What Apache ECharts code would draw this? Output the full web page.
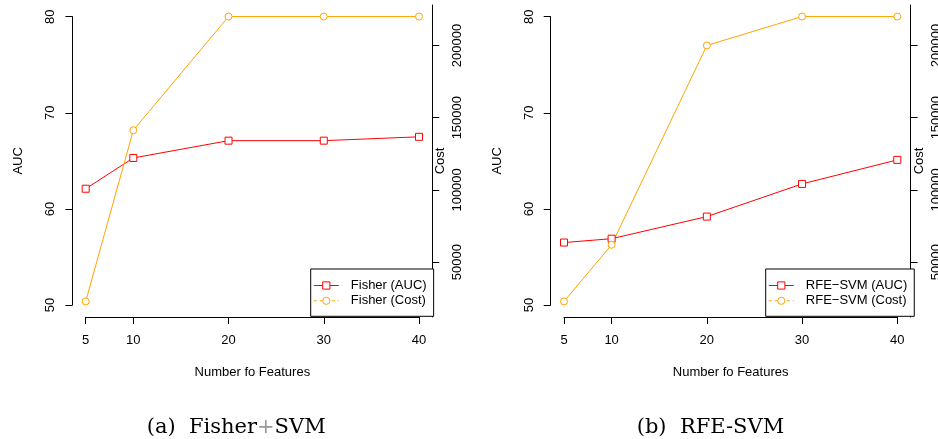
<!DOCTYPE html>
<html><head><meta charset="utf-8">
<script src="https://cdn.jsdelivr.net/npm/echarts@6/dist/echarts.min.js"></script>
<style>html,body{margin:0;padding:0;background:#fff}#c{width:938px;height:439px}</style>
</head><body><div id="c"></div>
<script>
// ---- data ----
const features = [5, 10, 20, 30, 40];
const fisherAUC = [62.1, 65.3, 67.1, 67.1, 67.5];
const fisherCost = [22800, 141300, 220000, 220000, 220000];
const rfeAUC = [56.5, 56.9, 59.2, 62.6, 65.1];
const rfeCost = [22800, 62000, 200000, 220000, 220000];
const xTicks = [5, 10, 20, 30, 40];
const aucTicks = [50, 60, 70, 80];
const costTicks = [50000, 100000, 150000, 200000];
const methodNames = ['Fisher', 'RFE\u2212SVM'];
const captions = ['(a)  Fisher{p|+}SVM', '(b)  RFE-SVM'];
const xTitle = 'Number fo Features';

const aucSeries = [fisherAUC, rfeAUC];
const costSeries = [fisherCost, rfeCost];

const SANS = 'Liberation Sans, Arial, Helvetica, sans-serif';
const FS = 13;
const BLACK = '#000';
const RED = '#FF0000';
const ORANGE = '#FFA500';

const dxs = [0, 478.3];
const legendLeft = [310.7, 765.7];
const captionLeft = [146.7, 636.7];

const grid = [], xAxis = [], yAxis = [], series = [], legend = [], title = [];
const txt = {color: BLACK, fontSize: FS, fontFamily: SANS};

for (let p = 0; p < 2; p++) {
  const dx = dxs[p];
  grid.push({left: 85.7 + dx, top: 16.7, width: 333.3, height: 288.3, containLabel: false, outerBoundsMode: 'none'});
  grid.push({left: 72.4 + dx, top: 5, width: 359.9, height: 312, containLabel: false, outerBoundsMode: 'none'});

  xAxis.push({
    gridIndex: 2 * p, type: 'value', min: 5, max: 40, position: 'bottom', offset: 12,
    axisLine: {show: true, onZero: false, lineStyle: {color: BLACK, width: 1}},
    axisTick: {show: true, customValues: xTicks, length: 7, lineStyle: {color: BLACK}},
    axisLabel: Object.assign({customValues: xTicks, margin: 17}, txt),
    splitLine: {show: false},
    name: xTitle, nameLocation: 'middle', nameGap: 49, nameMoveOverlap: false, nameTextStyle: txt
  });
  xAxis.push({gridIndex: 2 * p + 1, type: 'value', min: 3.6, max: 41.4, show: false});

  yAxis.push({
    gridIndex: 2 * p, type: 'value', min: 50, max: 80, interval: 10, position: 'left', offset: 13.3,
    axisLine: {show: true, onZero: false, lineStyle: {color: BLACK, width: 1}},
    axisTick: {show: true, customValues: aucTicks, length: 7, lineStyle: {color: BLACK}},
    axisLabel: Object.assign({customValues: aucTicks, rotate: 90, margin: 15}, txt),
    splitLine: {show: false},
    name: 'AUC', nameLocation: 'middle', nameGap: 47, nameRotate: 90, nameMoveOverlap: false, nameTextStyle: txt
  });
  yAxis.push({
    gridIndex: 2 * p + 1, type: 'value', min: 12000, max: 228000, position: 'right',
    axisLine: {show: true, onZero: false, lineStyle: {color: BLACK, width: 1}},
    axisTick: {show: true, customValues: costTicks, length: 7, lineStyle: {color: BLACK}},
    axisLabel: Object.assign({customValues: costTicks, rotate: 90, margin: 19, formatter: v => String(v)}, txt),
    splitLine: {show: false},
    name: 'Cost', nameLocation: 'middle', nameGap: 2, nameRotate: 90, nameMoveOverlap: false, nameTextStyle: txt
  });

  const nA = methodNames[p] + ' (AUC)';
  const nC = methodNames[p] + ' (Cost)';
  series.push({
    type: 'line', name: nA, xAxisIndex: 2 * p, yAxisIndex: 2 * p,
    data: features.map((x, i) => [x, aucSeries[p][i]]),
    symbol: 'rect', symbolSize: 7,
    lineStyle: {color: RED, width: 1}, itemStyle: {color: '#fff', borderColor: RED, borderWidth: 1}
  });
  series.push({
    type: 'line', name: nC, xAxisIndex: 2 * p + 1, yAxisIndex: 2 * p + 1,
    data: features.map((x, i) => [x, costSeries[p][i]]),
    symbol: 'circle', symbolSize: 7,
    lineStyle: {color: ORANGE, width: 1}, itemStyle: {color: '#fff', borderColor: ORANGE, borderWidth: 1}
  });

  legend.push({
    orient: 'vertical', left: legendLeft[p], top: 269,
    padding: [10, 7, 9, 2.6], itemGap: 2.3, itemWidth: 25, itemHeight: 9,
    borderColor: BLACK, borderWidth: 1, backgroundColor: '#fff',
    selectedMode: false,
    itemStyle: {borderWidth: 1},
    lineStyle: {width: 1},
    textStyle: Object.assign({padding: [0, 0, 0, 7]}, txt),
    data: [{name: nA}, {name: nC, lineStyle: {type: [3, 3], width: 1}}]
  });

  title.push({
    text: captions[p], left: captionLeft[p], top: 417, padding: 0,
    textStyle: {fontFamily: 'DejaVu Serif, serif', fontSize: 21, fontWeight: 'normal', color: BLACK,
      rich: {p: {fontFamily: 'DejaVu Serif, serif', fontSize: 21, color: '#999'}}}
  });
}

const chart = echarts.init(document.getElementById('c'), null, {renderer: 'canvas'});
chart.setOption({animation: false, backgroundColor: '#fff', grid, xAxis, yAxis, series, legend, title});
</script></body></html>
